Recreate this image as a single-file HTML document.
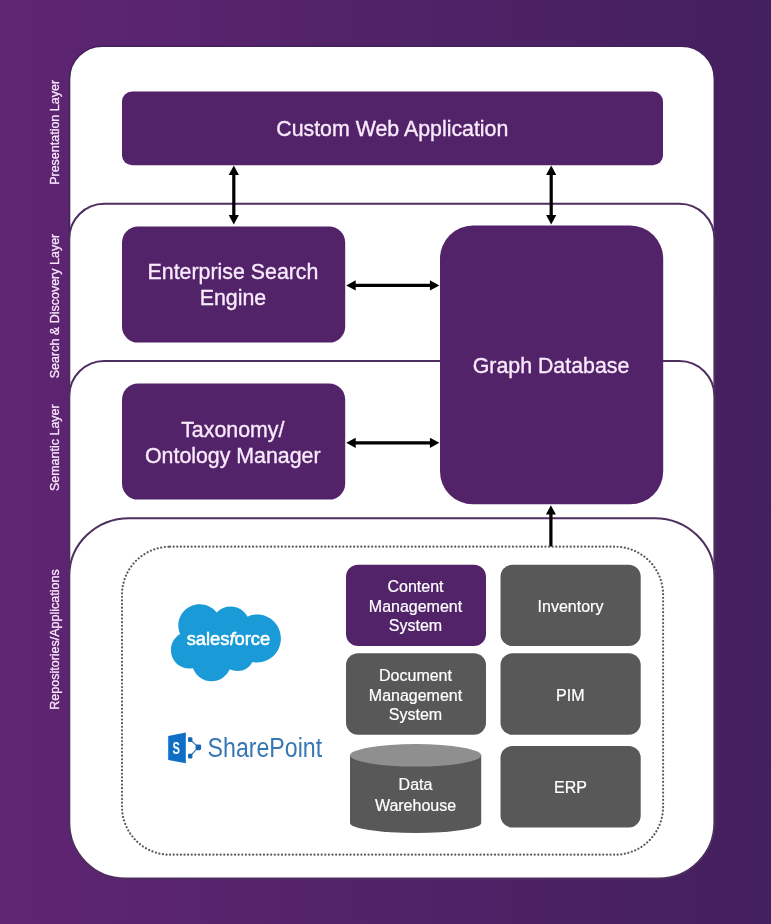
<!DOCTYPE html>
<html lang="en">
<head>
<meta charset="utf-8">
<title>Architecture Layers</title>
<style>
  html, body { margin: 0; padding: 0; }
  body { width: 771px; height: 924px; overflow: hidden; background: #4f2267; }
  svg { display: block; will-change: transform; }
  text { font-family: "Liberation Sans", Arial, Helvetica, sans-serif; }
  .big { font-size: 21.35px; fill: #f9eafc; stroke: #f9eafc; stroke-width: 0.35px; text-anchor: middle; }
  .sm { font-size: 16px; fill: #fff; stroke: #fff; stroke-width: 0.22px; text-anchor: middle; }
  .side { font-size: 12.5px; fill: #f8e6fb; stroke: #f8e6fb; stroke-width: 0.3px; text-anchor: middle; }
</style>
</head>
<body>
<svg width="771" height="924" viewBox="0 0 771 924">
  <defs>
    <linearGradient id="bg" x1="0" y1="0" x2="1" y2="0">
      <stop offset="0" stop-color="#5f2572"/>
      <stop offset="1" stop-color="#43205e"/>
    </linearGradient>
  </defs>
  <rect width="771" height="924" fill="url(#bg)"/>

  <!-- layer panels -->
  <path d="M69.5 300 V79 A32.8 32.8 0 0 1 102.3 46.2 H681.6 A32.8 32.8 0 0 1 714.4 79 V300 Z" fill="#fff" stroke="#45215c" stroke-width="1.6"/>
  <g fill="#fff" stroke="#4e2d5f" stroke-width="2">
    <path d="M69.3 460 V238.8 A35 35 0 0 1 104.3 203.8 H679.4 A35 35 0 0 1 714.4 238.8 V460 Z"/>
    <path d="M69.3 620 V396 A35 35 0 0 1 104.3 361 H679.4 A35 35 0 0 1 714.4 396 V620 Z"/>
    <path d="M69.3 575.8 A60 57.6 0 0 1 129.3 518.2 H654.4 A60 57.6 0 0 1 714.4 575.8 V822.5 A56 56 0 0 1 658.4 878.5 H125.3 A56 56 0 0 1 69.3 822.5 Z"/>
  </g>

  <!-- side labels -->
  <text class="side" transform="translate(58.5 132.4) rotate(-90)">Presentation Layer</text>
  <text class="side" transform="translate(58.5 306) rotate(-90)">Search &amp; Discovery Layer</text>
  <text class="side" transform="translate(58.5 447.7) rotate(-90)">Semantic Layer</text>
  <text class="side" transform="translate(58.5 639.5) rotate(-90)">Repositories/Applications</text>

  <!-- main boxes -->
  <g fill="#522369">
    <rect x="122" y="91.5" width="541" height="73.8" rx="10"/>
    <rect x="122" y="226.6" width="223.2" height="116" rx="16"/>
    <rect x="122" y="383.6" width="223.2" height="116" rx="16"/>
    <rect x="440" y="225.6" width="223.2" height="278.7" rx="33"/>
  </g>
  <text class="big" x="392.3" y="135.8">Custom Web Application</text>
  <text class="big" x="233" y="279.4">Enterprise Search</text>
  <text class="big" x="233" y="305.3">Engine</text>
  <text class="big" x="232.8" y="437.3">Taxonomy/</text>
  <text class="big" x="232.8" y="463">Ontology Manager</text>
  <text class="big" x="551" y="372.6">Graph Database</text>

  <!-- arrows -->
  <g fill="#000" stroke="none">
    <path d="M233.8 165.4 l5.1 9.5 h-3.5 v40.2 h3.5 l-5.1 9.5 l-5.1 -9.5 h3.5 v-40.2 h-3.5 z"/>
    <path d="M551.2 165.4 l5.1 9.5 h-3.5 v40.2 h3.5 l-5.1 9.5 l-5.1 -9.5 h3.5 v-40.2 h-3.5 z"/>
    <path d="M346.2 285.4 l9.5 -5.1 v3.5 h74.2 v-3.5 l9.5 5.1 l-9.5 5.1 v-3.5 h-74.2 v3.5 z"/>
    <path d="M346.2 442.8 l9.5 -5.1 v3.5 h74.2 v-3.5 l9.5 5.1 l-9.5 5.1 v-3.5 h-74.2 v3.5 z"/>
    <path d="M550.9 505.2 l5 9.4 h-3.4 v32 h-3.2 v-32 h-3.4 z"/>
  </g>

  <!-- dotted container -->
  <rect x="122" y="546.7" width="541.1" height="308" rx="48" fill="none" stroke="#595959" stroke-width="2.2" stroke-linecap="round" stroke-dasharray="0.01 3.6"/>

  <!-- small boxes -->
  <rect x="346" y="564.7" width="140" height="81.3" rx="12" fill="#522369"/>
  <g fill="#585858">
    <rect x="500.5" y="564.7" width="140.2" height="81.3" rx="12"/>
    <rect x="346" y="653.3" width="140" height="81.5" rx="12"/>
    <rect x="500.5" y="653.3" width="140.2" height="81.5" rx="12"/>
    <rect x="500.5" y="746" width="140.2" height="81.5" rx="12"/>
    <path d="M350 755 V823 A65.6 10 0 0 0 481.2 823 V755 Z"/>
  </g>
  <ellipse cx="415.6" cy="755.3" rx="65.6" ry="11.2" fill="#8f8f8f"/>

  <text class="sm" x="415.5" y="592.2">Content</text>
  <text class="sm" x="415.5" y="612">Management</text>
  <text class="sm" x="415.5" y="631">System</text>
  <text class="sm" x="570.5" y="612.1">Inventory</text>
  <text class="sm" x="415.5" y="680.7">Document</text>
  <text class="sm" x="415.5" y="700.5">Management</text>
  <text class="sm" x="415.5" y="719.5">System</text>
  <text class="sm" x="570.3" y="701">PIM</text>
  <text class="sm" x="415.5" y="790.4">Data</text>
  <text class="sm" x="415.5" y="810.8">Warehouse</text>
  <text class="sm" x="570.5" y="793">ERP</text>

  <!-- salesforce -->
  <g transform="translate(170.9 587.7) scale(4.583)">
    <path fill="#1b9ad8" d="M10.006 5.415a4.195 4.195 0 0 1 3.045-1.306c1.56 0 2.954.9 3.69 2.205.63-.3 1.35-.45 2.1-.45 2.85 0 5.159 2.34 5.159 5.22s-2.31 5.22-5.176 5.22c-.345 0-.69-.044-1.02-.104a3.75 3.75 0 0 1-3.3 1.95c-.6 0-1.155-.15-1.65-.375A4.314 4.314 0 0 1 8.88 20.4a4.302 4.302 0 0 1-4.05-2.82c-.27.062-.54.076-.825.076-2.204 0-4.005-1.8-4.005-4.05 0-1.5.811-2.805 2.01-3.51-.255-.57-.39-1.2-.39-1.846 0-2.58 2.1-4.65 4.65-4.65 1.53 0 2.85.705 3.72 1.8"/>
  </g>
  <text x="228.4" y="645" font-size="18.5" fill="#fff" stroke="#fff" stroke-width="0.55" text-anchor="middle" textLength="83.5" lengthAdjust="spacingAndGlyphs">sales<tspan font-style="italic">f</tspan>orce</text>

  <!-- sharepoint -->
  <g>
    <path d="M168.2 736 L185.8 732.5 V763.2 L168.2 760.1 Z" fill="#0f6fc4"/>
    <text x="176.3" y="753.9" font-size="17" font-weight="bold" fill="#fff" text-anchor="middle" textLength="7.4" lengthAdjust="spacingAndGlyphs">S</text>
    <path d="M190.2 739.6 L198.4 747.3 L190.2 756" fill="none" stroke="#3a78b4" stroke-width="1.2"/>
    <g fill="#1568b3">
      <rect x="188" y="737.3" width="4.4" height="4.6" rx="0.8"/>
      <rect x="195.6" y="744.4" width="5.5" height="5.8" rx="1.4"/>
      <rect x="188" y="753.7" width="4.4" height="4.7" rx="0.8"/>
    </g>
    <text x="207.6" y="757.3" font-size="27" fill="#3777b3" textLength="114.5" lengthAdjust="spacingAndGlyphs">SharePoint</text>
  </g>
</svg>
</body>
</html>
